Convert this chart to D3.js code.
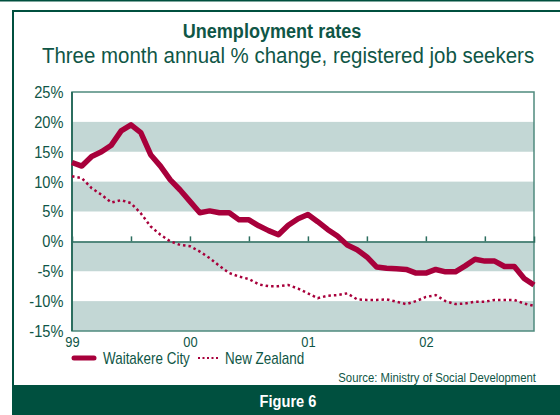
<!DOCTYPE html>
<html>
<head>
<meta charset="utf-8">
<script src="https://cdn.jsdelivr.net/npm/d3@7"></script>
<style>
  body { margin: 0; background: #fff; }
  svg { display: block; font-family: "Liberation Sans", Arial, sans-serif; }
</style>
</head>
<body>
<svg id="chart" width="560" height="415"></svg>
<script>
// monthly values, Jan 1999 - Dec 2002
const waitakere = [
  13.2, 12.6, 14.2, 15.0, 16.1, 18.5, 19.5, 18.2, 14.5, 12.6, 10.3, 8.6,
  6.7, 4.8, 5.1, 4.8, 4.8, 3.6, 3.6, 2.6, 1.8, 1.1, 2.7, 3.8,
  4.5, 3.3, 2.0, 0.9, -0.6, -1.4, -2.6, -4.3, -4.5, -4.6, -4.7, -5.3,
  -5.3, -4.7, -5.1, -5.1, -4.1, -3.0, -3.3, -3.3, -4.2, -4.2, -6.2, -7.3
];
const newZealand = [
  10.9, 10.6, 8.9, 7.8, 6.5, 6.9, 6.4, 4.7, 2.5, 1.1, 0.0, -0.6,
  -0.8, -1.7, -2.8, -4.1, -5.3, -5.9, -6.3, -7.2, -7.5, -7.5, -7.3, -7.9,
  -8.7, -9.5, -9.1, -9.0, -8.7, -9.7, -9.8, -9.8, -9.7, -10.1, -10.5, -10.0,
  -9.3, -9.0, -10.0, -10.5, -10.4, -10.1, -10.1, -9.8, -9.8, -9.8, -10.4, -10.8
];
const yTicks = [25, 20, 15, 10, 5, 0, -5, -10, -15];
const bands = [[15, 20], [5, 10], [-5, 0], [-15, -10]];
const yearLabels = ['99', '00', '01', '02'];
const seriesNames = ['Waitakere City', 'New Zealand'];

const darkGreen = '#00503f';
const textGreen = '#0f5646';
const crimson = '#a8003b';

// the original uses a narrow sans: add a text at (x, y) squeezed horizontally by k
function label(parent, x, y, str, k) {
  return parent.append('text')
    .attr('transform', `translate(${x},${y}) scale(${k},1)`)
    .text(str);
}

const svg = d3.select('#chart');

// outer frame
svg.append('rect').attr('x', 0).attr('y', 0).attr('width', 560).attr('height', 1.5).attr('fill', darkGreen);
svg.append('rect').attr('x', 12).attr('y', 10).attr('width', 560).attr('height', 2).attr('fill', darkGreen);
svg.append('rect').attr('x', 12).attr('y', 10).attr('width', 2).attr('height', 380).attr('fill', darkGreen);
svg.append('rect').attr('x', 12).attr('y', 385).attr('width', 560).attr('height', 30).attr('fill', darkGreen);

label(svg, 288, 407, 'Figure 6', 0.86)
  .attr('text-anchor', 'middle')
  .attr('fill', '#fff')
  .attr('font-weight', 'bold')
  .attr('font-size', 17);

label(svg, 272, 38, 'Unemployment rates', 0.86)
  .attr('text-anchor', 'middle')
  .attr('fill', textGreen)
  .attr('font-weight', 'bold')
  .attr('font-size', 21);

label(svg, 288, 63, 'Three month annual % change, registered job seekers', 0.93)
  .attr('text-anchor', 'middle')
  .attr('fill', textGreen)
  .attr('font-size', 22);

const margin = { left: 72, top: 92, right: 534, bottom: 331 };

const x = d3.scaleLinear().domain([0, 47]).range([margin.left, margin.right]);
const y = d3.scaleLinear().domain([-15, 25]).range([margin.bottom, margin.top]);

const g = svg.append('g');

g.selectAll('rect.band')
  .data(bands)
  .join('rect')
  .attr('class', 'band')
  .attr('x', margin.left)
  .attr('width', margin.right - margin.left)
  .attr('y', d => y(d[1]))
  .attr('height', d => y(d[0]) - y(d[1]))
  .attr('fill', '#c3d7d5');

// plot border
g.append('rect')
  .attr('x', margin.left).attr('y', margin.top)
  .attr('width', margin.right - margin.left)
  .attr('height', margin.bottom - margin.top)
  .attr('fill', 'none')
  .attr('stroke', '#4f8a7e')
  .attr('stroke-width', 1.5);

g.append('line')
  .attr('x1', margin.left).attr('x2', margin.left)
  .attr('y1', margin.top).attr('y2', margin.bottom)
  .attr('stroke', '#2c6e5f')
  .attr('stroke-width', 2);

// y axis labels
const yAxis = d3.axisLeft(y)
  .tickValues(yTicks)
  .tickSize(0)
  .tickPadding(10)
  .tickFormat(d => d + '%');

g.append('g')
  .attr('transform', `translate(${margin.left},0)`)
  .call(yAxis)
  .call(a => a.select('.domain').remove())
  .selectAll('text')
  .attr('fill', textGreen)
  .attr('font-size', 17)
  .attr('font-family', '"Liberation Sans", Arial, sans-serif')
  .attr('transform', 'scale(0.86,1)');

// zero line with half-year ticks
const zeroAxis = d3.axisTop(x)
  .tickValues(d3.range(6, 47, 6))
  .tickSize(5)
  .tickFormat('');

g.append('g')
  .attr('transform', `translate(0,${y(0)})`)
  .call(zeroAxis)
  .call(a => a.select('.domain').attr('stroke', '#2c6e5f').attr('stroke-width', 1.5))
  .selectAll('line').attr('stroke', '#2c6e5f').attr('stroke-width', 1.5);

// year labels
const xAxis = d3.axisBottom(x)
  .tickValues([0, 12, 24, 36])
  .tickSize(0)
  .tickPadding(5)
  .tickFormat((d, i) => yearLabels[i]);

g.append('g')
  .attr('transform', `translate(0,${margin.bottom})`)
  .call(xAxis)
  .call(a => a.select('.domain').remove())
  .selectAll('text')
  .attr('fill', textGreen)
  .attr('font-size', 15)
  .attr('font-family', '"Liberation Sans", Arial, sans-serif')
  .attr('transform', 'scale(0.86,1)');

const line = d3.line()
  .x((d, i) => x(i))
  .y(d => y(d));

g.append('path')
  .datum(newZealand)
  .attr('fill', 'none')
  .attr('stroke', crimson)
  .attr('stroke-width', 2.5)
  .attr('stroke-dasharray', '2.5,3')
  .attr('d', line);

g.append('path')
  .datum(waitakere)
  .attr('fill', 'none')
  .attr('stroke', crimson)
  .attr('stroke-width', 5.5)
  .attr('stroke-linejoin', 'round')
  .attr('d', line);

// legend
const legend = svg.append('g');
legend.append('line')
  .attr('x1', 74).attr('x2', 94).attr('y1', 358).attr('y2', 358)
  .attr('stroke', crimson).attr('stroke-width', 5).attr('stroke-linecap', 'round');
label(legend, 103, 364, seriesNames[0], 0.84)
  .attr('fill', textGreen).attr('font-size', 16);
legend.append('line')
  .attr('x1', 198).attr('x2', 220).attr('y1', 358).attr('y2', 358)
  .attr('stroke', crimson).attr('stroke-width', 2).attr('stroke-dasharray', '2,2.5');
label(legend, 225, 364, seriesNames[1], 0.84)
  .attr('fill', textGreen).attr('font-size', 16);

label(svg, 536, 382, 'Source: Ministry of Social Development', 0.84)
  .attr('text-anchor', 'end')
  .attr('fill', textGreen)
  .attr('font-size', 13.5);
</script>
</body>
</html>
